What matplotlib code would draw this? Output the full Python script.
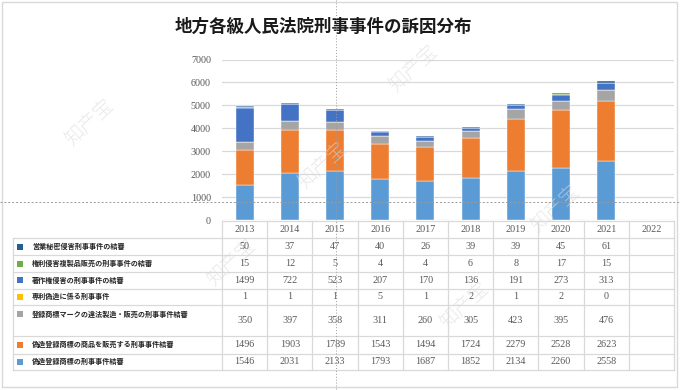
########## import Python libraries
import numpy as np
import matplotlib
matplotlib.use('Agg')
import matplotlib.pyplot as plt


years = ['2013', '2014', '2015', '2016', '2017', '2018', '2019', '2020', '2021', '2022']

# series labels, top row of the table first
lbl_secret     = '営業秘密侵害刑事事件の結審'
lbl_copy_sale  = '権利侵害複製品販売の刑事事件の結審'
lbl_copyright  = '著作権侵害の刑事事件の結審'
lbl_patent     = '専利偽造に係る刑事事件'
lbl_mark       = '登録商標マークの違法製造・販売の刑事事件結審'
lbl_sell_fake  = '偽造登録商標の商品を販売する刑事事件結審'
lbl_fake       = '偽造登録商標の刑事事件結審'

# 2022 is empty in the source
v_secret    = [50, 37, 47, 40, 26, 39, 39, 45, 61, None]
v_copy_sale = [15, 12, 5, 4, 4, 6, 8, 17, 15, None]
v_copyright = [1499, 722, 523, 207, 170, 136, 191, 273, 313, None]
v_patent    = [1, 1, 1, 5, 1, 2, 1, 2, 0, None]
v_mark      = [350, 397, 358, 311, 260, 305, 423, 395, 476, None]
v_sell_fake = [1496, 1903, 1789, 1543, 1494, 1724, 2279, 2528, 2623, None]
v_fake      = [1546, 2031, 2133, 1793, 1687, 1852, 2134, 2260, 2558, None]

title = '地方各級人民法院刑事事件の訴因分布'
watermark = '知产宝'


########## series in stacking order (bottom -> top), Excel office colours
stack = [
    (lbl_fake,      v_fake,      '#5B9BD5'),
    (lbl_sell_fake, v_sell_fake, '#ED7D31'),
    (lbl_mark,      v_mark,      '#A5A5A5'),
    (lbl_patent,    v_patent,    '#FFC000'),
    (lbl_copyright, v_copyright, '#4472C4'),
    (lbl_copy_sale, v_copy_sale, '#70AD47'),
    (lbl_secret,    v_secret,    '#255E91'),
]
table_rows = stack[::-1]   # table lists the top series first

num_font = ['Liberation Serif', 'DejaVu Serif']
jp_font = ['Noto Sans CJK JP', 'DejaVu Sans']
grey_txt = '#595959'
line_c = '#D9D9D9'


########## figure / layout (pixel units, 680x390)
W, H = 680, 390
fig = plt.figure(figsize=(6.8, 3.9), dpi=100)

x0, x1 = 222, 674          # plot area / table columns
y_top, y_bot = 59.5, 220   # 7000 and 0
col_w = (x1 - x0) / len(years)

ax = fig.add_axes([x0 / W, 1 - y_bot / H, (x1 - x0) / W, (y_bot - y_top) / H])
ax.set_xlim(-0.5, len(years) - 0.5)
ax.set_ylim(0, 7000)
ax.set_yticks(np.arange(0, 7001, 1000))
ax.set_xticks([])
ax.grid(axis='y', color=line_c, linewidth=0.9)
ax.set_axisbelow(True)
for s in ax.spines.values():
    s.set_visible(False)
ax.tick_params(axis='y', length=0, pad=8, labelcolor=grey_txt, labelsize=7.3)
for t in ax.get_yticklabels():
    t.set_family(num_font)

##### stacked bars
xpos = np.arange(len(years))
bottom = np.zeros(len(years))
for name, vals, color in stack:
    v = np.array([np.nan if a is None else a for a in vals], dtype=float)
    ax.bar(xpos, np.nan_to_num(v), bottom=bottom, width=0.4, color=color,
           edgecolor='white', linewidth=0.3, label=name, zorder=2)
    bottom = bottom + np.nan_to_num(v)


########## overlay in pixel coordinates (title, data table, frame)
ov = fig.add_axes([0, 0, 1, 1])
ov.set_xlim(0, W)
ov.set_ylim(H, 0)
ov.axis('off')
ov.patch.set_visible(False)

# outer chart frame
ov.add_patch(plt.Rectangle((2, 2), W - 5, H - 5, fill=False, edgecolor=line_c, linewidth=1.0))

ov.text(175, 27, title, fontsize=12.6, fontweight='bold', family=jp_font,
        color='#1A1A1A', ha='left', va='center')

##### table grid
row_edges = [221, 238, 255, 272, 288.5, 305, 336, 353.5, 370]
col_edges = [x0 + k * col_w for k in range(len(years) + 1)]
tab_left = 13

ov.plot([x0, x1], [row_edges[0], row_edges[0]], color=line_c, lw=0.9)
for y in row_edges[1:]:
    ov.plot([tab_left, x1], [y, y], color=line_c, lw=0.9)
for x in col_edges:
    ov.plot([x, x], [row_edges[0], row_edges[-1]], color=line_c, lw=0.9)
ov.plot([tab_left, tab_left], [row_edges[1], row_edges[-1]], color=line_c, lw=0.9)

##### header
for k, yr in enumerate(years):
    ov.text(x0 + (k + 0.5) * col_w, (row_edges[0] + row_edges[1]) / 2, yr,
            fontsize=7.3, family=num_font, color=grey_txt, ha='center', va='center')

##### rows
for r, (name, vals, color) in enumerate(table_rows):
    ya, yb = row_edges[r + 1], row_edges[r + 2]
    yc = (ya + yb) / 2
    # legend key + label (tall row keeps its label at the top)
    yl = ya + 9 if (yb - ya) > 20 else yc
    ov.add_patch(plt.Rectangle((17, yl - 3), 6, 6, color=color, lw=0))
    ov.text(32, yl, name, fontsize=5.1, family=jp_font, color='#262626',
            ha='left', va='center', fontweight='bold')
    for k, v in enumerate(vals):
        if v is None:
            continue
        ov.text(x0 + (k + 0.5) * col_w, yc, str(v), fontsize=7.3, family=num_font,
                color=grey_txt, ha='center', va='center')

##### screenshot guide lines
ov.plot([0, W], [202, 202], color='#9A9A9A', lw=0.7, ls=(0, (2, 2)), zorder=5)
ov.plot([335.5, 335.5], [0, H], color='#9A9A9A', lw=0.7, ls=(0, (1, 2)), zorder=5)

##### faint watermark lattice (only the ones that sit fully inside the frame)
a_vec = np.array([233.0, 43.0])
b_vec = np.array([91.0, -97.0])
base = np.array([90.0, 123.0])
for i in range(-2, 4):
    for j in range(-4, 4):
        p = base + i * a_vec + j * b_vec
        if 35 < p[0] < W - 35 and 35 < p[1] < H - 35:
            ov.text(p[0], p[1], watermark, fontsize=14, family=jp_font, color='#DADADA',
                    fontweight='light', rotation=43, ha='center', va='center',
                    alpha=0.6, zorder=0)

plt.savefig('out.png', dpi=100)
